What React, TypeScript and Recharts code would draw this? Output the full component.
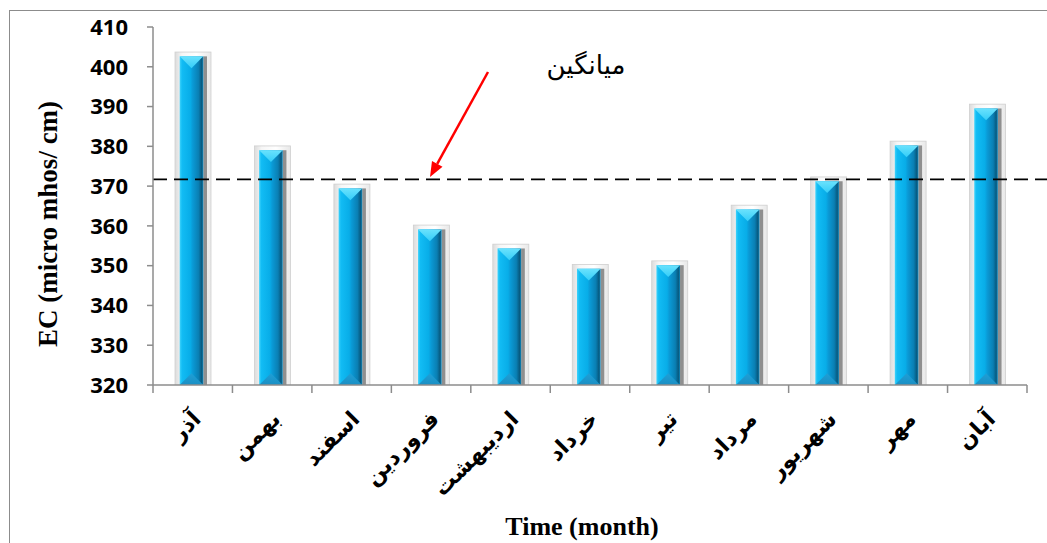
import React from 'react';
import { BarChart, Bar, XAxis, YAxis, ReferenceLine } from 'recharts';

// Monthly electrical conductivity readings
const MONTHS = ['آذر', 'بهمن', 'اسفند', 'فروردین', 'اردیبهشت', 'خرداد', 'تیر', 'مرداد', 'شهریور', 'مهر', 'آبان'];
const EC_VALUES = [403.2, 379.6, 370, 359.7, 354.9, 349.8, 350.7, 364.7, 371.8, 380.8, 390.1];
const Y_TICKS = [320, 330, 340, 350, 360, 370, 380, 390, 400, 410];
const MEAN_EC = 371.7;
const MEAN_LABEL = 'میانگین';

const data = MONTHS.map((month, i) => ({ month, ec: EC_VALUES[i] }));

const W = 1047;
const H = 543;
const MARGIN = { top: 27, right: 20, bottom: 0, left: 0 };
const Y_AXIS_W = 153;
const X_AXIS_H = 158;
const PLOT_W = W - MARGIN.left - MARGIN.right - Y_AXIS_W;
const BAND = PLOT_W / MONTHS.length;
const AXIS_GRAY = '#8c8c8c';

function BevelBar(props: any) {
  const { x, y, width, height } = props;
  const ox = x - 2;
  const ot = y - 2;
  const ow = width + 4;
  const bottom = y + height;
  const bl = ox + 4.7;
  const br = ox + ow - 7.7;
  const bt = ot + 4.3;
  const bb = bottom;
  const cx = (bl + br) / 2;
  const hw = (br - bl) / 2;
  return (
    <g>
      <rect x={ox} y={ot} width={ow} height={bottom - ot + 1.5} fill="url(#ecFrame)" stroke="#cfcfcf" strokeWidth={0.8} />
      <rect x={br} y={bt} width={3.7} height={bb - bt} fill="#8f8f8f" />
      <rect x={bl} y={bt} width={br - bl} height={bb - bt} fill="url(#ecFace)" />
      <polygon points={`${bl},${bt} ${br},${bt} ${cx},${bt + hw}`} fill="url(#ecTop)" />
      <polygon points={`${bl},${bb} ${br},${bb} ${cx},${bb - hw}`} fill="url(#ecBottom)" />
      <line x1={ox} x2={ox + ow} y1={bottom + 1.5} y2={bottom + 1.5} stroke="#9a9a9a" strokeWidth={1.5} />
    </g>
  );
}

function MonthTick(props: any) {
  const { x, y, payload, index } = props;
  const left = x - BAND / 2;
  const right = x + BAND / 2;
  const ax = x;
  const ay = y + 26;
  return (
    <g>
      <line x1={left} x2={left} y1={y} y2={y + 8} stroke={AXIS_GRAY} strokeWidth={1.5} />
      {index === MONTHS.length - 1 && (
        <line x1={right} x2={right} y1={y} y2={y + 8} stroke={AXIS_GRAY} strokeWidth={1.5} />
      )}
      <text
        x={ax}
        y={ay}
        transform={`rotate(-45, ${ax}, ${ay})`}
        textAnchor="end"
        dy="0.6em"
        fontFamily="'DejaVu Sans', sans-serif"
        fontWeight={700}
        fontSize={22}
        fill="#000"
      >
        {payload.value}
      </text>
    </g>
  );
}

function MeanLine(props: any) {
  const { x1, y1, x2, y2 } = props;
  return (
    <line x1={x1} y1={y1} x2={x2 + MARGIN.right} y2={y2} stroke="#000" strokeWidth={1.8} strokeDasharray="14 7" />
  );
}

export default function App() {
  return (
    <div style={{ position: 'absolute', left: 0, top: 0, width: W, height: H, overflow: 'hidden', background: '#fff' }}>
      <div
        style={{
          position: 'absolute',
          left: 9,
          top: 10,
          width: W,
          height: H,
          borderLeft: `1.5px solid ${AXIS_GRAY}`,
          borderTop: `1.5px solid ${AXIS_GRAY}`,
        }}
      />
      <div style={{ position: 'absolute', left: 0, top: 0 }}>
        <BarChart width={W} height={H} data={data} margin={MARGIN} barSize={32}>
          <defs>
            <linearGradient id="ecFrame" x1="0" y1="0" x2="1" y2="0">
              <stop offset="0" stopColor="#dcdcdc" />
              <stop offset="0.2" stopColor="#f6f6f6" />
              <stop offset="0.6" stopColor="#ffffff" />
              <stop offset="1" stopColor="#e8e8e8" />
            </linearGradient>
            <linearGradient id="ecFace" x1="0" y1="0" x2="1" y2="0">
              <stop offset="0" stopColor="#3fd3fb" />
              <stop offset="0.1" stopColor="#12bcf4" />
              <stop offset="0.45" stopColor="#08ade8" />
              <stop offset="0.55" stopColor="#0a9ad6" />
              <stop offset="0.8" stopColor="#0a7fb3" />
              <stop offset="0.93" stopColor="#075a80" />
              <stop offset="1" stopColor="#0e86bb" />
            </linearGradient>
            <linearGradient id="ecTop" x1="0" y1="0" x2="0" y2="1">
              <stop offset="0" stopColor="#6ae2fd" />
              <stop offset="1" stopColor="#34cdf8" />
            </linearGradient>
            <linearGradient id="ecBottom" x1="0" y1="0" x2="0" y2="1">
              <stop offset="0" stopColor="#1e9fd6" />
              <stop offset="1" stopColor="#1b8fc4" />
            </linearGradient>
          </defs>
          <XAxis
            dataKey="month"
            height={X_AXIS_H}
            interval={0}
            tickLine={false}
            tickSize={0}
            tickMargin={0}
            axisLine={{ stroke: AXIS_GRAY, strokeWidth: 1.5 }}
            tick={<MonthTick />}
          />
          <YAxis
            width={Y_AXIS_W}
            domain={[320, 410]}
            ticks={Y_TICKS}
            interval={0}
            allowDataOverflow
            tickSize={6}
            tickMargin={19}
            axisLine={{ stroke: AXIS_GRAY, strokeWidth: 1.5 }}
            tickLine={{ stroke: AXIS_GRAY, strokeWidth: 1.5 }}
            tick={{ fill: '#000', fontSize: 22, fontWeight: 700, fontFamily: "'Open Sans', sans-serif" }}
          />
          <Bar dataKey="ec" isAnimationActive={false} shape={<BevelBar />} />
          <ReferenceLine y={MEAN_EC} ifOverflow="visible" shape={<MeanLine />} />
        </BarChart>
      </div>
      <svg width={W} height={H} style={{ position: 'absolute', left: 0, top: 0, pointerEvents: 'none' }}>
        <text
          transform="translate(57, 224) rotate(-90)"
          textAnchor="middle"
          fontFamily="'Liberation Serif', serif"
          fontWeight={700}
          fontSize={27}
          fill="#000"
        >
          EC (micro mhos/ cm)
        </text>
        <text x={582} y={535} textAnchor="middle" fontFamily="'Liberation Serif', serif" fontWeight={700} fontSize={26} fill="#000">
          Time (month)
        </text>
        <text x={586} y={74} textAnchor="middle" fontFamily="'DejaVu Sans', sans-serif" fontSize={26} fill="#000">
          {MEAN_LABEL}
        </text>
        <line x1={488} y1={72} x2={437.2} y2={163.9} stroke="#ff0000" strokeWidth={2.5} />
        <polygon points="430,177 442.5,166.8 432,161" fill="#ff0000" />
      </svg>
    </div>
  );
}
